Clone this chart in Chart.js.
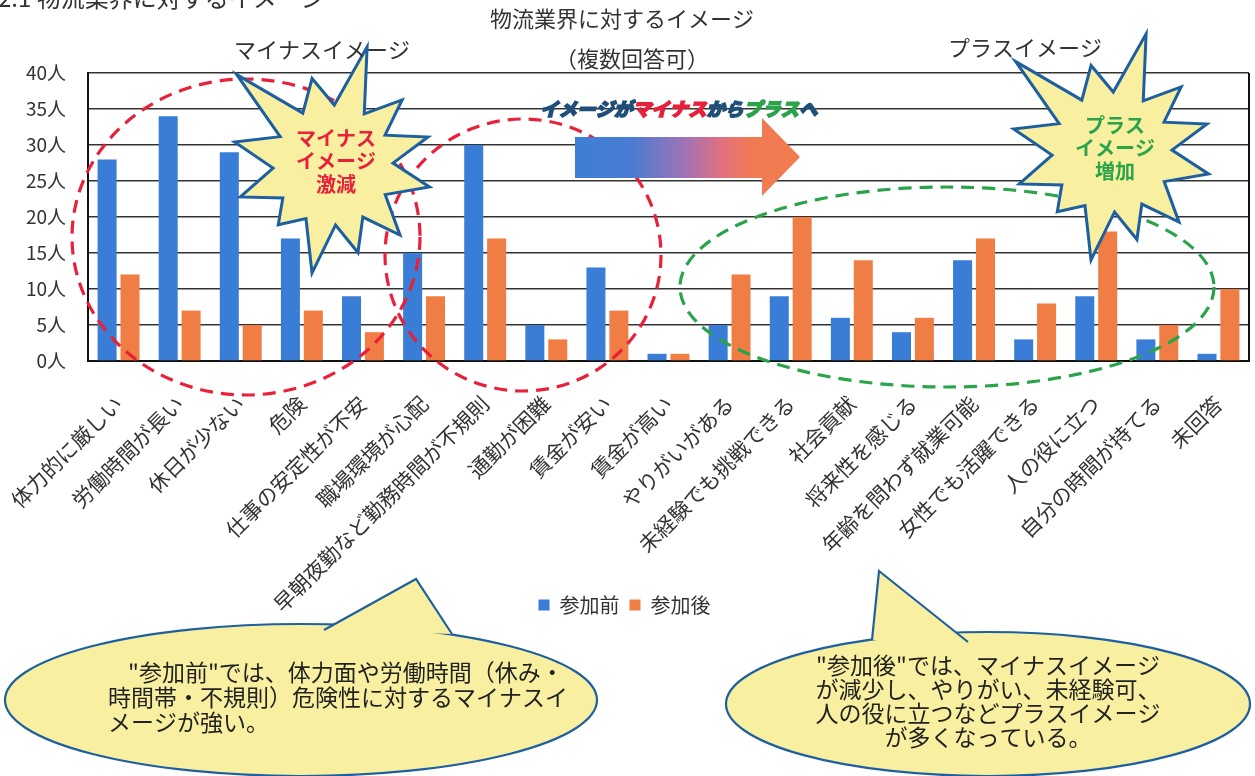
<!DOCTYPE html>
<html lang="ja">
<head>
  <meta charset="UTF-8"/>
  <title>物流業界に対するイメージ</title>
  <script src="https://cdn.jsdelivr.net/npm/chart.js"></script>
  <style>
    html, body { margin: 0; padding: 0; background: #fff; }
    #wrap { width: 1255px; height: 776px; }
  </style>
</head>
<body>
<div id="wrap"><canvas id="chart" width="1255" height="776"></canvas></div>
<script>
  // --- data ---
  const categories = ['体力的に厳しい', '労働時間が長い', '休日が少ない', '危険', '仕事の安定性が不安',
    '職場環境が心配', '早朝夜勤など勤務時間が不規則', '通勤が困難', '賃金が安い', '賃金が高い',
    'やりがいがある', '未経験でも挑戦できる', '社会貢献', '将来性を感じる', '年齢を問わず就業可能',
    '女性でも活躍できる', '人の役に立つ', '自分の時間が持てる', '未回答'];
  const beforeValues = [28, 34, 29, 17, 9, 15, 30, 5, 13, 1, 5, 9, 6, 4, 14, 3, 9, 3, 1];
  const afterValues = [12, 7, 5, 7, 4, 9, 17, 3, 7, 1, 12, 20, 14, 6, 17, 8, 18, 5, 10];
  const seriesNames = ['参加前', '参加後'];
  const yMax = 40;
  const yStep = 5;
  const unit = '人';

  const FONT = '"Noto Sans CJK JP", "Noto Sans", sans-serif';
  const BLUE = '#3a7dd6';
  const ORANGE = '#ef7d44';
  const RED = '#e8203a';
  const GREEN = '#2aa34a';
  const NAVY = '#1f4e79';
  const PALE = '#f8f0a0';
  const EDGE = '#1d5fa0';

  // starburst outline: [angle deg, radius] for each tip
  const starTips = [[-136.8, 132], [-103.6, 89], [-73.9, 123], [-43.3, 95], [-16.4, 99], [12.8, 99],
    [46.3, 97], [74.1, 91], [101, 110], [132.5, 81], [161, 98], [-166.8, 101]];

  function drawStar(ctx, cx, cy, lines, color) {
    ctx.save();
    ctx.beginPath();
    const n = starTips.length;
    for (let i = 0; i < n; i++) {
      const a = starTips[i][0] * Math.PI / 180;
      let b = starTips[(i + 1) % n][0];
      let a0 = starTips[i][0];
      if (b < a0) b += 360;
      const mid = (a0 + b) / 2 * Math.PI / 180;
      const px = cx + Math.cos(a) * starTips[i][1], py = cy + Math.sin(a) * starTips[i][1];
      if (i === 0) ctx.moveTo(px, py); else ctx.lineTo(px, py);
      ctx.lineTo(cx + Math.cos(mid) * 60, cy + Math.sin(mid) * 60);
    }
    ctx.closePath();
    ctx.fillStyle = PALE;
    ctx.fill();
    ctx.lineWidth = 3;
    ctx.strokeStyle = EDGE;
    ctx.lineJoin = 'miter';
    ctx.stroke();
    ctx.fillStyle = color;
    ctx.font = 'bold 20px ' + FONT;
    ctx.textAlign = 'center';
    ctx.textBaseline = 'middle';
    lines.forEach((t, i) => ctx.fillText(t, cx + 3, cy - 27 + i * 23));
    ctx.restore();
  }

  function dashedEllipse(ctx, x, y, rx, ry, rot, color) {
    ctx.save();
    ctx.beginPath();
    ctx.ellipse(x, y, rx, ry, rot, 0, Math.PI * 2);
    ctx.setLineDash([13, 8]);
    ctx.lineWidth = 3.2;
    ctx.strokeStyle = color;
    ctx.stroke();
    ctx.restore();
  }

  function bubble(ctx, cx, cy, rx, ry, tail, lines, align, tx, lh) {
    ctx.save();
    ctx.fillStyle = PALE;
    ctx.strokeStyle = EDGE;
    ctx.lineWidth = 2.2;
    ctx.beginPath();
    ctx.ellipse(cx, cy, rx, ry, 0, 0, Math.PI * 2);
    ctx.fill();
    ctx.stroke();
    ctx.beginPath();
    ctx.moveTo(tail[0][0], tail[0][1]);
    ctx.lineTo(tail[1][0], tail[1][1]);
    ctx.lineTo(tail[2][0], tail[2][1]);
    ctx.closePath();
    ctx.fill();
    ctx.beginPath();
    ctx.moveTo(tail[0][0], tail[0][1]);
    ctx.lineTo(tail[1][0], tail[1][1]);
    ctx.lineTo(tail[2][0], tail[2][1]);
    ctx.stroke();
    ctx.fillStyle = '#222';
    ctx.font = '23px ' + FONT;
    ctx.textAlign = align;
    ctx.textBaseline = 'middle';
    lines.forEach((l, i) => ctx.fillText(l[0], tx + l[1], cy - (lines.length - 1) * lh / 2 + i * lh - 3));
    ctx.restore();
  }

  const decorations = {
    id: 'decorations',
    afterLayout(chart) {
      // legend sits beside the long rotated labels, not below them
      const lg = chart.legend;
      if (lg) {
        const h = lg.bottom - lg.top;
        lg.top = 585;
        lg.bottom = 585 + h;
      }
    },
    afterDatasetsDraw(chart) {
      const ctx = chart.ctx;
      const area = chart.chartArea;
      // right frame line
      ctx.save();
      ctx.strokeStyle = '#111';
      ctx.lineWidth = 2;
      ctx.beginPath();
      ctx.moveTo(area.right, area.top);
      ctx.lineTo(area.right, area.bottom);
      ctx.stroke();
      ctx.restore();

      dashedEllipse(ctx, 246, 237, 174, 158, 0, RED);
      dashedEllipse(ctx, 523, 255, 138, 136, 0, RED);
      dashedEllipse(ctx, 947, 287, 267, 100, 0, GREEN);

      // gradient arrow
      ctx.save();
      const g = ctx.createLinearGradient(575, 0, 800, 0);
      g.addColorStop(0, '#3c7fd6');
      g.addColorStop(0.25, '#4a7cd2');
      g.addColorStop(0.5, '#a472b4');
      g.addColorStop(0.66, '#e4717c');
      g.addColorStop(0.78, '#f07a55');
      g.addColorStop(1, '#f27c4c');
      ctx.fillStyle = g;
      ctx.beginPath();
      ctx.moveTo(575, 137);
      ctx.lineTo(762, 137);
      ctx.lineTo(762, 118);
      ctx.lineTo(800, 157);
      ctx.lineTo(762, 196);
      ctx.lineTo(762, 178);
      ctx.lineTo(575, 178);
      ctx.closePath();
      ctx.fill();

      const parts = [['イメージが', NAVY], ['マイナス', RED], ['から', NAVY], ['プラス', GREEN], ['へ', NAVY]];
      ctx.font = 'italic 900 18.5px ' + FONT;
      ctx.textBaseline = 'middle';
      ctx.textAlign = 'left';
      let x = 540;
      parts.forEach(p => {
        ctx.lineWidth = 1.4;
        ctx.strokeStyle = p[1];
        ctx.fillStyle = p[1];
        ctx.strokeText(p[0], x, 109);
        ctx.fillText(p[0], x, 109);
        x += ctx.measureText(p[0]).width;
      });
      ctx.restore();

      drawStar(ctx, 333, 165, ['マイナス', 'イメージ', '激減'], RED);
      drawStar(ctx, 1112, 152, ['プラス', 'イメージ', '増加'], GREEN);
    },
    afterDraw(chart) {
      const ctx = chart.ctx;
      ctx.save();
      ctx.fillStyle = '#333';
      ctx.font = '24px ' + FONT;
      ctx.textBaseline = 'bottom';
      ctx.textAlign = 'left';
      ctx.fillText('2.1 物流業界に対するイメージ', -2, 10);
      ctx.font = '22px ' + FONT;
      ctx.textAlign = 'center';
      ctx.textBaseline = 'middle';
      ctx.fillText('物流業界に対するイメージ', 622, 19);
      ctx.fillText('（複数回答可）', 632, 59);
      ctx.fillText('マイナスイメージ', 322, 50);
      ctx.fillText('プラスイメージ', 1025, 48);
      ctx.restore();

      bubble(ctx, 301, 700, 296, 76, [[324, 630], [416, 579], [452, 634]],
        [['"参加前"では、体力面や労働時間（休み・', 20], ['時間帯・不規則）危険性に対するマイナスイ', 0], ['メージが強い。', 0]],
        'left', 108, 25);
      bubble(ctx, 988, 704, 262, 72, [[872, 640], [879, 571], [968, 642]],
        [['"参加後"では、マイナスイメージ', 0], ['が減少し、やりがい、未経験可、', 0], ['人の役に立つなどプラスイメージ', 0], ['が多くなっている。', 0]],
        'center', 988, 24);
    }
  };

  new Chart(document.getElementById('chart').getContext('2d'), {
    type: 'bar',
    data: {
      labels: categories,
      datasets: [
        { label: seriesNames[0], data: beforeValues, backgroundColor: BLUE, borderWidth: 0 },
        { label: seriesNames[1], data: afterValues, backgroundColor: ORANGE, borderWidth: 0 }
      ]
    },
    options: {
      responsive: false,
      animation: false,
      devicePixelRatio: 1,
      categoryPercentage: 0.75,
      barPercentage: 0.83,
      layout: { padding: { top: 73, right: 6, bottom: 125, left: 0 } },
      plugins: {
        legend: {
          position: 'bottom',
          labels: { boxWidth: 11, boxHeight: 11, padding: 10, color: '#333', font: { size: 20, family: FONT } }
        },
        tooltip: { enabled: false },
        title: { display: false }
      },
      scales: {
        x: {
          grid: { display: false },
          border: { display: true, color: '#111', width: 2 },
          ticks: {
            autoSkip: false, minRotation: 45, maxRotation: 45, padding: 22,
            color: '#333', font: { size: 21, family: FONT }
          },
          afterFit(scale) {
            scale.height = 250;
            scale.paddingLeft = 0;
            scale.paddingRight = 0;
          }
        },
        y: {
          min: 0, max: yMax,
          grid: { color: '#333', lineWidth: 1.5, drawTicks: false },
          border: { display: true, color: '#111', width: 2 },
          ticks: {
            stepSize: yStep, padding: 22, color: '#333', font: { size: 19, family: FONT },
            callback: v => v + unit
          },
          afterFit(scale) { scale.width = 88; }
        }
      }
    },
    plugins: [decorations]
  });
</script>
</body>
</html>
